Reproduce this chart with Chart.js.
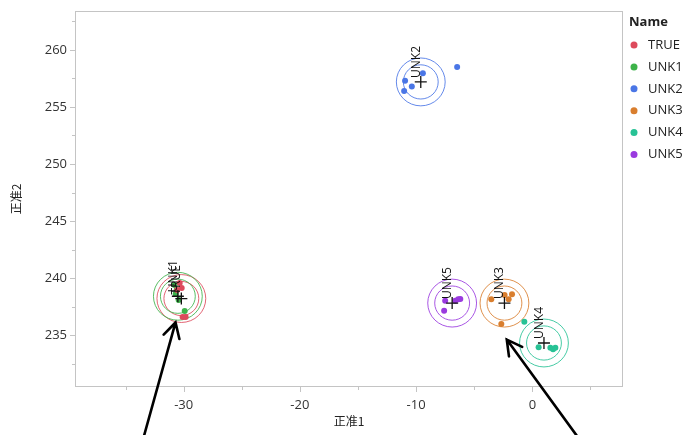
<!DOCTYPE html>
<html><head><meta charset="utf-8">
<script src="https://cdn.jsdelivr.net/npm/chart.js@4/dist/chart.umd.min.js"></script>
<style>html,body{margin:0;padding:0;background:#fff}#wrap{width:688px;height:435px}</style>
</head><body><div id="wrap"><canvas id="c" width="688" height="435"></canvas></div>
<script>
// ---- data ----
const groupNames = ['TRUE', 'UNK1', 'UNK2', 'UNK3', 'UNK4', 'UNK5'];
const groupColors = ['#dd4a5c', '#3db34a', '#4a76e6', '#d97e2e', '#27c295', '#9a3adf'];

const xTRUE = [-30.34, -30.17, -30.09, -29.83, -30.56];
const yTRUE = [239.56, 239.12, 236.58, 236.58, 238.95];
const xUNK1 = [-30.78, -30.60, -30.69, -30.43, -29.91];
const yUNK1 = [239.39, 238.95, 238.60, 238.07, 237.11];
const xUNK2 = [-6.47, -9.42, -10.95, -10.37, -11.03];
const yUNK2 = [258.50, 257.96, 257.30, 256.80, 256.40];
const xUNK3 = [-3.53, -2.39, -2.04, -1.75, -2.67];
const yUNK3 = [238.13, 238.50, 238.13, 238.57, 235.96];
const xUNK4 = [-0.69, 0.54, 1.55, 1.78, 1.98];
const yUNK4 = [236.17, 233.92, 233.89, 233.75, 233.89];
const xUNK5 = [-7.50, -7.59, -6.64, -6.38, -6.20];
const yUNK5 = [238.00, 237.13, 238.00, 238.13, 238.16];

const groupX = [xTRUE, xUNK1, xUNK2, xUNK3, xUNK4, xUNK5];
const groupY = [yTRUE, yUNK1, yUNK2, yUNK3, yUNK4, yUNK5];

// group means (cross / circle centres)
const centerX = [-30.2, -30.5, -9.6, -2.4, 1.0, -6.9];
const centerY = [238.2, 238.4, 257.2, 237.8, 234.3, 237.8];
const innerRadius = 1.5;   // canonical units
const outerRadius = 2.1;

// tick values
const xMajorTicks = [-30, -20, -10, 0];
const xMinorTicks = [-35, -25, -15, -5, 5];
const yMajorTicks = [235, 240, 245, 250, 255, 260];
const yMinorTicks = [232.5, 237.5, 242.5, 247.5, 252.5, 257.5, 262.5];

// annotation arrows (data units): tail -> tip
const arrowTailX = [-33.4, 3.8];
const arrowTailY = [226.2, 226.2];
const arrowTipX = [-30.7, -2.2];
const arrowTipY = [236.1, 234.6];

const xTitle = '正准1';
const yTitle = '正准2';
const legendTitle = 'Name';

// ---- chart ----
const datasets = groupNames.map((n, i) => ({
  label: n,
  data: groupX[i].map((x, j) => ({x: x, y: groupY[i][j]})),
  pointRadius: 3,
  pointHoverRadius: 3,
  pointBackgroundColor: groupColors[i],
  pointBorderWidth: 0,
  backgroundColor: groupColors[i],
  borderColor: groupColors[i],
  showLine: false
}));

const frameColor = '#c4c4c4';

const decor = {
  id: 'decor',
  beforeDatasetsDraw(chart) {
    const {ctx, chartArea: a, scales: {x, y}} = chart;
    ctx.save();
    // frame
    ctx.strokeStyle = frameColor;
    ctx.lineWidth = 1;
    ctx.strokeRect(Math.round(a.left) + 0.5, Math.round(a.top) + 0.5,
                   Math.round(a.right - a.left) - 1, Math.round(a.bottom - a.top) - 1);
    // ticks
    ctx.beginPath();
    xMajorTicks.forEach(v => { const p = Math.round(x.getPixelForValue(v)) + 0.5; ctx.moveTo(p, a.bottom); ctx.lineTo(p, a.bottom + 5); });
    xMinorTicks.forEach(v => { const p = Math.round(x.getPixelForValue(v)) + 0.5; ctx.moveTo(p, a.bottom); ctx.lineTo(p, a.bottom + 3); });
    yMajorTicks.forEach(v => { const p = Math.round(y.getPixelForValue(v)) + 0.5; ctx.moveTo(a.left, p); ctx.lineTo(a.left - 5, p); });
    yMinorTicks.forEach(v => { const p = Math.round(y.getPixelForValue(v)) + 0.5; ctx.moveTo(a.left, p); ctx.lineTo(a.left - 3, p); });
    ctx.stroke();
    // circles
    ctx.beginPath();
    ctx.rect(a.left, a.top, a.right - a.left, a.bottom - a.top);
    ctx.clip();
    ctx.lineWidth = 1;
    groupNames.forEach((n, i) => {
      const cx = x.getPixelForValue(centerX[i]);
      const cy = y.getPixelForValue(centerY[i]);
      [innerRadius, outerRadius].forEach(r => {
        const rx = Math.abs(x.getPixelForValue(centerX[i] + r) - cx);
        const ry = Math.abs(y.getPixelForValue(centerY[i] + r) - cy);
        ctx.strokeStyle = groupColors[i];
        ctx.globalAlpha = 0.85;
        ctx.beginPath();
        ctx.ellipse(cx, cy, rx, ry, 0, 0, Math.PI * 2);
        ctx.stroke();
      });
    });
    ctx.restore();
  },
  afterDatasetsDraw(chart) {
    const {ctx, scales: {x, y}} = chart;
    ctx.save();
    // crosses and labels
    groupNames.forEach((n, i) => {
      const cx = x.getPixelForValue(centerX[i]);
      const cy = y.getPixelForValue(centerY[i]);
      ctx.strokeStyle = '#111';
      ctx.lineWidth = 1.3;
      ctx.beginPath();
      ctx.moveTo(cx - 6, cy); ctx.lineTo(cx + 6, cy);
      ctx.moveTo(cx, cy - 6); ctx.lineTo(cx, cy + 6);
      ctx.stroke();
      ctx.save();
      ctx.translate(cx, cy);
      ctx.rotate(-Math.PI / 2);
      ctx.fillStyle = '#111';
      ctx.font = '12px "Open Sans"';
      ctx.textAlign = 'left';
      ctx.textBaseline = 'alphabetic';
      ctx.fillText(n, 4, -1);
      ctx.restore();
    });
    // arrows
    ctx.strokeStyle = '#000';
    ctx.lineWidth = 2.6;
    ctx.lineCap = 'round';
    arrowTipX.forEach((tx, i) => {
      const px = x.getPixelForValue(tx), py = y.getPixelForValue(arrowTipY[i]);
      const qx = x.getPixelForValue(arrowTailX[i]), qy = y.getPixelForValue(arrowTailY[i]);
      const ang = Math.atan2(py - qy, px - qx);
      const L = 17, w = 0.5;
      ctx.beginPath();
      ctx.moveTo(qx, qy); ctx.lineTo(px, py);
      ctx.moveTo(px - L * Math.cos(ang - w), py - L * Math.sin(ang - w));
      ctx.lineTo(px, py);
      ctx.lineTo(px - L * Math.cos(ang + w), py - L * Math.sin(ang + w));
      ctx.stroke();
    });
    ctx.restore();
  },
  afterDraw(chart) {
    const {ctx, chartArea: a} = chart;
    ctx.save();
    const lx = a.right + 6;
    ctx.fillStyle = '#222';
    ctx.font = 'bold 13px "Open Sans"';
    ctx.textBaseline = 'middle';
    ctx.textAlign = 'left';
    ctx.fillText(legendTitle, lx, 22);
    ctx.font = '13px "Open Sans"';
    groupNames.forEach((n, i) => {
      const yy = 45 + i * 21.9;
      ctx.fillStyle = groupColors[i];
      ctx.beginPath();
      ctx.arc(lx + 5, yy, 3.5, 0, Math.PI * 2);
      ctx.fill();
      ctx.fillStyle = '#222';
      ctx.fillText(n, lx + 19, yy);
    });
    ctx.restore();
  }
};

new Chart(document.getElementById('c'), {
  type: 'scatter',
  data: {datasets},
  plugins: [decor],
  options: {
    responsive: false,
    devicePixelRatio: 1,
    animation: false,
    layout: {padding: {top: 11, right: 65, left: 0, bottom: 0}},
    plugins: {legend: {display: false}, tooltip: {enabled: false}},
    scales: {
      x: {
        type: 'linear', min: -39.35, max: 7.8,
        afterBuildTicks: s => { s.ticks = xMajorTicks.map(v => ({value: v})); },
        afterFit: s => { s.height = 48; s.paddingLeft = 0; s.paddingRight = 0; },
        grid: {display: false, drawTicks: false},
        border: {display: false},
        ticks: {font: {family: 'Open Sans', size: 13}, color: '#333', padding: 10, maxRotation: 0, autoSkip: false},
        title: {display: true, text: xTitle, font: {family: 'Noto Sans CJK SC', size: 12}, color: '#222', padding: {top: 0, bottom: 6}}
      },
      y: {
        type: 'linear', min: 230.44, max: 263.42,
        afterBuildTicks: s => { s.ticks = yMajorTicks.map(v => ({value: v})); },
        afterFit: s => { s.width = 75; s.paddingTop = 0; s.paddingBottom = 0; },
        grid: {display: false, drawTicks: false},
        border: {display: false},
        ticks: {font: {family: 'Open Sans', size: 13}, color: '#333', padding: 8, autoSkip: false},
        title: {display: true, text: yTitle, font: {family: 'Noto Sans CJK SC', size: 12}, color: '#222', padding: {top: 9, bottom: 0}}
      }
    }
  }
});
</script></body></html>
